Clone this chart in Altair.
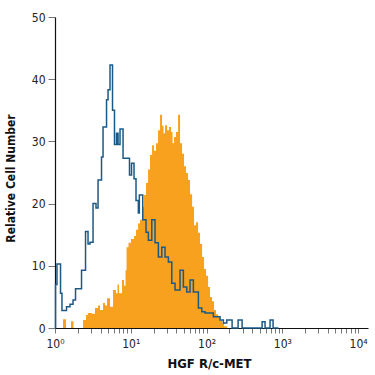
import altair as alt
import pandas as pd

# Orange filled histogram (HGF R/c-MET stained): log10 fluorescence bin edge, relative count
orange_log = [0.0, 0.106, 0.145, 0.211, 0.244, 0.370, 0.409, 0.436, 0.488, 0.528, 0.568,
              0.594, 0.634, 0.660, 0.686, 0.726, 0.766, 0.805, 0.825, 0.845, 0.884, 0.911,
              0.931, 0.944, 0.970, 1.003, 1.043, 1.069, 1.096, 1.122, 1.149, 1.175, 1.201,
              1.228, 1.254, 1.281, 1.307, 1.333, 1.360, 1.386, 1.413, 1.432, 1.452, 1.479,
              1.505, 1.531, 1.551, 1.571, 1.597, 1.624, 1.650, 1.677, 1.703, 1.729, 1.756,
              1.782, 1.809, 1.835, 1.861, 1.888, 1.914, 1.941, 1.967, 1.993, 2.020, 2.046,
              2.073, 2.099, 2.125, 2.152, 2.178, 2.205, 2.231, 2.271]
orange_count = [0, 1.4, 0, 1.1, 0, 1.3, 2.1, 2.4, 2.3, 3.2, 3.6,
                2.9, 4.0, 3.6, 4.8, 3.4, 6.1, 5.6, 7.0, 5.6, 7.7, 6.8,
                9.3, 13.0, 13.7, 14.3, 14.8, 15.8, 16.8, 17.4, 19.5, 21.4, 23.3,
                25.5, 27.8, 29.4, 28.5, 29.7, 31.8, 34.3, 32.5, 31.3, 32.6, 31.8,
                32.3, 31.5, 29.7, 30.7, 31.5, 34.3, 29.7, 28.0, 26.0, 24.9, 23.8,
                21.5, 19.5, 16.5, 17.0, 15.3, 13.5, 11.4, 9.5, 8.4, 6.6, 5.0,
                4.3, 2.9, 2.2, 1.8, 1.2, 0.8, 0.3, 0]

# Blue outline histogram (isotype control)
blue_log = [0.0, 0.007, 0.026, 0.073, 0.092, 0.152, 0.198, 0.238, 0.271, 0.350, 0.403,
            0.436, 0.462, 0.502, 0.541, 0.568, 0.614, 0.634, 0.680, 0.700, 0.726, 0.759,
            0.785, 0.812, 0.832, 0.858, 0.898, 0.983, 1.010, 1.043, 1.069, 1.100, 1.113,
            1.158, 1.201, 1.232, 1.277, 1.320, 1.364, 1.409, 1.452, 1.496, 1.541, 1.584,
            1.650, 1.694, 1.739, 1.782, 1.826, 1.892, 1.937, 1.980, 2.090, 2.178, 2.222,
            2.267, 2.337, 2.416, 2.469, 2.733, 2.772, 2.838, 2.878, 2.950]
blue_count = [0, 7.0, 10.3, 5.6, 2.8, 3.4, 3.8, 4.5, 6.3, 9.3, 15.5,
              13.5, 13.8, 20.0, 19.3, 23.8, 27.5, 32.3, 36.7, 38.3, 42.3, 35.0,
              29.5, 31.3, 29.5, 32.0, 27.3, 24.6, 26.5, 24.0, 20.5, 18.5, 21.4,
              17.4, 15.4, 14.1, 17.4, 13.7, 11.4, 13.0, 11.4, 10.6, 7.2, 6.1,
              9.3, 6.6, 5.8, 7.7, 5.8, 3.2, 2.6, 2.4, 1.8, 1.3, 0.8,
              1.3, 0, 1.3, 0, 1.0, 0, 1.3, 0, 0]

x_ticks = [m * 10 ** e for e in range(4) for m in range(1, 10)] + [10000]
y_ticks = [0, 10, 20, 30, 40, 50]

orange_df = pd.DataFrame({"x": [10 ** v for v in orange_log], "y": orange_count})
blue_df = pd.DataFrame({"x": [10 ** v for v in blue_log], "y": blue_count})

FONT = "Liberation Sans Narrow, DejaVu Sans Condensed, Arial Narrow, sans-serif"

xscale = alt.Scale(type="log", domain=[1, 13500], nice=False)
yscale = alt.Scale(domain=[0, 50], nice=False)

label_expr = ("abs(log(datum.value)/LN10 - round(log(datum.value)/LN10)) < 0.001 ? "
              "'10' + ['\u2070','\u00b9','\u00b2','\u00b3','\u2074'][round(log(datum.value)/LN10)] : ''")

xaxis = alt.Axis(values=x_ticks, labelExpr=label_expr, title="HGF R/c-MET",
                 tickSize=5, tickColor="#777777", domainColor="#111111", domainWidth=1.2,
                 labelFont=FONT, labelFontSize=12, labelColor="#222222", labelPadding=5,
                 labelFlush=False, labelOverlap=False, grid=False,
                 titleFont=FONT, titleFontSize=13, titleFontWeight="bold", titleColor="#111111",
                 titleX=154, titleY=35, titleBaseline="middle", titleAlign="center")
yaxis = alt.Axis(values=y_ticks, title="Relative Cell Number",
                 tickSize=7, tickColor="#777777", domainColor="#111111", domainWidth=1.2,
                 labelFont=FONT, labelFontSize=12, labelColor="#222222", labelPadding=3,
                 grid=False,
                 titleFont=FONT, titleFontSize=12, titleFontWeight="bold", titleColor="#111111",
                 titleX=-45, titleY=161, titleBaseline="middle", titleAlign="center", titleAngle=270)

orange = alt.Chart(orange_df).mark_area(interpolate="step-after", color="#F8A11E", opacity=1).encode(
    x=alt.X("x:Q", scale=xscale, axis=xaxis),
    y=alt.Y("y:Q", scale=yscale, axis=yaxis),
)
blue = alt.Chart(blue_df).mark_line(interpolate="step-after", color="#1C5A86", strokeWidth=1.5).encode(
    x=alt.X("x:Q", scale=xscale),
    y=alt.Y("y:Q", scale=yscale),
)

chart = alt.layer(orange, blue).properties(
    width=313, height=311,
    autosize=alt.AutoSizeParams(type="none"),
    padding={"left": 55, "top": 17, "right": 7, "bottom": 47},
    background="white",
).configure_view(stroke=None)

chart.save("out.html", embed_options={"renderer": "svg", "actions": False})
